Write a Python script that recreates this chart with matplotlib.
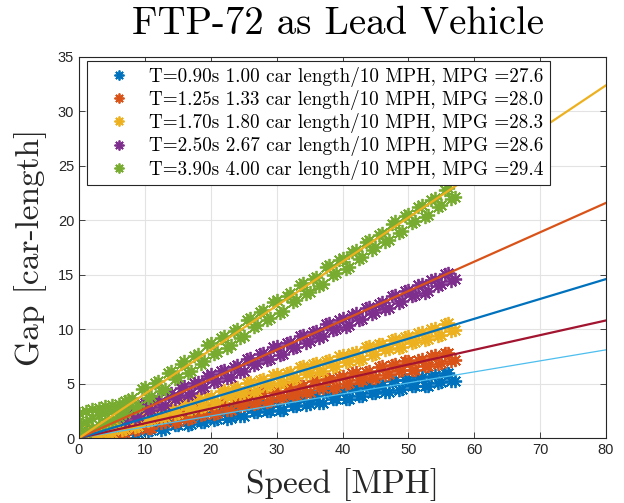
import matplotlib
matplotlib.use("Agg")
import matplotlib.pyplot as plt

# speed samples (MPH): whole and half steps
speed = [0, 1, 2, 3, 4, 5, 6, 7, 8, 9, 10, 11, 12, 13, 14, 15, 16, 17, 18, 19, 20, 21, 22, 23, 24,
         25, 26, 27, 28, 29, 30, 31, 32, 33, 34, 35, 36, 37, 38, 39, 40, 41, 42, 43, 44, 45, 46, 47,
         48, 49, 50, 51, 52, 53, 54, 55, 56, 57]
speed_half = [0.5, 1.5, 2.5, 3.5, 4.5, 5.5, 6.5, 7.5, 8.5, 9.5, 10.5, 11.5, 12.5, 13.5, 14.5, 15.5,
              16.5, 17.5, 18.5, 19.5, 20.5, 21.5, 22.5, 23.5, 24.5, 25.5, 26.5, 27.5, 28.5, 29.5,
              30.5, 31.5, 32.5, 33.5, 34.5, 35.5, 36.5, 37.5, 38.5, 39.5, 40.5, 41.5, 42.5, 43.5,
              44.5, 45.5, 46.5, 47.5, 48.5, 49.5, 50.5, 51.5, 52.5, 53.5, 54.5, 55.5, 56.5]

gap_t090 = [0.4, 0.0, 0.7, 0.0, 0.7, 0.0, 1.05, 0.35, 1.15, 0.45, 1.5, 0.7, 1.5, 0.8, 1.8, 1.2,
            2.05, 1.25, 2.15, 1.5, 2.5, 1.75, 2.6, 1.8, 2.7, 2.05, 3.05, 2.4, 3.2, 2.5, 3.5, 2.6,
            3.55, 2.95, 3.85, 3.1, 3.9, 3.25, 4.3, 3.6, 4.4, 3.6, 4.55, 3.9, 4.85, 4.15, 4.9, 4.25,
            5.3, 4.5, 5.4, 4.8, 5.65, 4.8, 5.75, 5.1, 6.0, 5.25]
gap_t090_half = [0.0, 0.65, 0.0, 0.65, 0.0, 1.0, 0.3, 1.1, 0.4, 1.45, 0.65, 1.45, 0.75, 1.75, 1.15,
                 2.0, 1.2, 2.1, 1.45, 2.45, 1.7, 2.55, 1.75, 2.65, 2.0, 3.0, 2.35, 3.15, 2.45, 3.45,
                 2.55, 3.5, 2.9, 3.8, 3.05, 3.85, 3.2, 4.25, 3.55, 4.35, 3.55, 4.5, 3.85, 4.8, 4.1,
                 4.85, 4.2, 5.25, 4.45, 5.35, 4.75, 5.6, 4.75, 5.7, 5.05, 5.95, 5.2]

gap_t125 = [0.5, 0.0, 0.57, 0.0, 0.98, 0.32, 1.15, 0.48, 1.56, 0.8, 1.63, 0.96, 2.0, 1.43, 2.31, 1.55,
            2.48, 1.86, 2.89, 2.18, 3.06, 2.29, 3.23, 2.61, 3.64, 3.03, 3.86, 3.19, 4.22, 3.36, 4.34, 3.77,
            4.71, 3.99, 4.82, 4.21, 5.29, 4.62, 5.45, 4.69, 5.67, 5.05, 6.04, 5.37, 6.15, 5.54, 6.62, 5.85,
            6.78, 6.22, 7.1, 6.28, 7.27, 6.65, 7.58, 6.87, 7.85, 7.18]
gap_t125_half = [0.0, 0.5, 0.0, 0.91, 0.25, 1.08, 0.41, 1.49, 0.73, 1.56, 0.89, 1.93, 1.36, 2.24, 1.48,
                 2.41, 1.79, 2.82, 2.11, 2.99, 2.22, 3.16, 2.54, 3.57, 2.96, 3.79, 3.12, 4.15, 3.29,
                 4.27, 3.7, 4.64, 3.92, 4.75, 4.14, 5.22, 4.55, 5.38, 4.62, 5.6, 4.98, 5.97, 5.3, 6.08,
                 5.47, 6.55, 5.78, 6.71, 6.15, 7.03, 6.21, 7.2, 6.58, 7.51, 6.8, 7.78, 7.11]

gap_t170 = [0.3, 0.0, 0.81, 0.19, 1.07, 0.45, 1.58, 0.86, 1.74, 1.12, 2.2, 1.68, 2.61, 1.89, 2.87, 2.3,
            3.38, 2.71, 3.64, 2.92, 3.9, 3.33, 4.41, 3.84, 4.72, 4.1, 5.18, 4.36, 5.39, 4.87, 5.85, 5.18,
            6.06, 5.49, 6.62, 6.0, 6.88, 6.16, 7.19, 6.62, 7.65, 7.03, 7.86, 7.29, 8.42, 7.7, 8.68, 8.16,
            9.09, 8.32, 9.35, 8.78, 9.76, 9.09, 10.12, 9.5, 10.58, 9.96]
gap_t170_half = [0.0, 0.72, 0.1, 0.98, 0.36, 1.49, 0.77, 1.65, 1.03, 2.11, 1.59, 2.52, 1.8, 2.78, 2.21,
                 3.29, 2.62, 3.55, 2.83, 3.81, 3.24, 4.32, 3.75, 4.63, 4.01, 5.09, 4.27, 5.3, 4.78,
                 5.76, 5.09, 5.97, 5.4, 6.53, 5.91, 6.79, 6.07, 7.1, 6.53, 7.56, 6.94, 7.77, 7.2, 8.33,
                 7.61, 8.59, 8.07, 9.0, 8.23, 9.26, 8.69, 9.67, 9.0, 10.03, 9.41, 10.49, 9.87]

# T=2.50s run starts at about 7 MPH
speed_t250 = [7, 7, 8, 9, 10, 11, 12, 13, 14, 15, 16, 17, 18, 19, 20, 21, 22, 23, 24, 25, 26, 27, 28,
              29, 30, 31, 32, 33, 34, 35, 36, 37, 38, 39, 40, 41, 42, 43, 44, 45, 46, 47, 48, 49,
              50, 51, 52, 53, 54, 55, 56, 57]
gap_t250 = [1.58, 2.5, 2.55, 2.01, 3.22, 2.58, 3.54, 3.01, 4.17, 3.73, 4.74, 4.1, 5.17, 4.68, 5.84,
            5.25, 6.26, 5.63, 6.69, 6.2, 7.36, 6.87, 7.84, 7.3, 8.46, 7.72, 8.83, 8.4, 9.46, 8.87,
            9.83, 9.34, 10.56, 10.02, 10.98, 10.34, 11.45, 10.97, 12.08, 11.54, 12.45, 11.96,
            13.18, 12.54, 13.6, 13.16, 14.17, 13.49, 14.6, 14.11, 15.17, 14.58]
speed_late_half = [7.5, 8.5, 9.5, 10.5, 11.5, 12.5, 13.5, 14.5, 15.5, 16.5, 17.5, 18.5, 19.5, 20.5,
                   21.5, 22.5, 23.5, 24.5, 25.5, 26.5, 27.5, 28.5, 29.5, 30.5, 31.5, 32.5, 33.5,
                   34.5, 35.5, 36.5, 37.5, 38.5, 39.5, 40.5, 41.5, 42.5, 43.5, 44.5, 45.5, 46.5,
                   47.5, 48.5, 49.5, 50.5, 51.5, 52.5, 53.5, 54.5, 55.5, 56.5]
gap_t250_half = [2.42, 1.88, 3.09, 2.45, 3.41, 2.88, 4.04, 3.6, 4.61, 3.97, 5.04, 4.55, 5.71, 5.12,
                 6.13, 5.5, 6.56, 6.07, 7.23, 6.74, 7.71, 7.17, 8.33, 7.59, 8.7, 8.27, 9.33, 8.74,
                 9.7, 9.21, 10.43, 9.89, 10.85, 10.21, 11.32, 10.84, 11.95, 11.41, 12.32, 11.83,
                 13.05, 12.41, 13.47, 13.03, 14.04, 13.36, 14.47, 13.98, 15.04, 14.45]

# T=3.90s run: low-speed cluster plus the main band
speed_t390 = [0, 0, 0, 0, 1, 1, 1, 2, 2, 2, 3, 3, 3, 4, 4, 4, 5, 5, 5, 6, 6, 6, 7, 7, 7,
              8, 9, 10, 11, 12, 13, 14, 15, 16, 17, 18, 19, 20, 21, 22, 23, 24, 25, 26, 27, 28,
              29, 30, 31, 32, 33, 34, 35, 36, 37, 38, 39, 40, 41, 42, 43, 44, 45, 46, 47, 48,
              49, 50, 51, 52, 53, 54, 55, 56, 57]
gap_t390 = [0.2, 0.9, 1.6, 2.3, 0.5, 1.5, 2.5, 0.8, 1.8, 2.7, 1.2, 2.1, 2.8, 1.4, 2.3, 2.9,
            1.6, 2.5, 3.0, 1.9, 2.6, 3.1, 2.3, 2.9, 3.4,
            3.69, 2.97, 4.7, 3.84, 5.22, 4.5, 6.16, 5.58, 7.03, 6.17, 7.69, 7.04, 8.7, 7.91, 9.36,
            8.5, 10.02, 9.37, 11.03, 10.38, 11.76, 11.04, 12.7, 11.7, 13.29, 12.71, 14.23, 13.44,
            14.82, 14.17, 15.9, 15.18, 16.56, 15.7, 17.29, 16.64, 18.23, 17.51, 18.82, 18.17,
            19.9, 19.04, 20.56, 19.98, 21.43, 20.5, 22.09, 21.44, 22.96, 22.17]
gap_t390_half = [3.49, 2.77, 4.5, 3.64, 5.02, 4.3, 5.96, 5.38, 6.83, 5.97, 7.49, 6.84, 8.5, 7.71,
                 9.16, 8.3, 9.82, 9.17, 10.83, 10.18, 11.56, 10.84, 12.5, 11.5, 13.09, 12.51,
                 14.03, 13.24, 14.62, 13.97, 15.7, 14.98, 16.36, 15.5, 17.09, 16.44, 18.03, 17.31,
                 18.62, 17.97, 19.7, 18.84, 20.36, 19.78, 21.23, 20.3, 21.89, 21.24, 22.76, 21.97]

labels = [
    "T=0.90s 1.00 car length/10 MPH, MPG =27.6",
    "T=1.25s 1.33 car length/10 MPH, MPG =28.0",
    "T=1.70s 1.80 car length/10 MPH, MPG =28.3",
    "T=2.50s 2.67 car length/10 MPH, MPG =28.6",
    "T=3.90s 4.00 car length/10 MPH, MPG =29.4",
]

# reference lines, from 0 to 80 MPH
line_speed = [0, 80]
line_gaps = [[0, 8.1], [0, 10.8], [0, 14.6], [0, 21.6], [0, 32.4]]

scatter_colors = ["#0072BD", "#D95319", "#EDB120", "#7E2F8E", "#77AC30"]
line_colors = ["#4DBEEE", "#A2142F", "#0072BD", "#D95319", "#EDB120"]
line_widths = [0.9, 1.6, 1.6, 1.6, 1.6]

serif = "cmr10"
plt.rcParams["font.family"] = ["Liberation Sans", "DejaVu Sans"]

fig = plt.figure(figsize=(6.24, 5.03), dpi=100)
ax = fig.add_axes([0.1266, 0.1292, 0.8446, 0.7575])

series = [
    (speed + speed_half, gap_t090 + gap_t090_half),
    (speed + speed_half, gap_t125 + gap_t125_half),
    (speed + speed_half, gap_t170 + gap_t170_half),
    (speed_t250 + speed_late_half, gap_t250 + gap_t250_half),
    (speed_t390 + speed_late_half, gap_t390 + gap_t390_half),
]
asterisk = (8, 2, 0)
for (x, y), c, lab in zip(series, scatter_colors, labels):
    ax.plot(x, y, linestyle="none", marker=asterisk, markersize=9.5,
            markeredgewidth=1.3, color=c, label=lab)

for g, c, w in zip(line_gaps, line_colors, line_widths):
    ax.plot(line_speed, g, color=c, linewidth=w)

ax.set_xlim(0, 80)
ax.set_ylim(0, 35)
ax.set_xticks(range(0, 81, 10))
ax.set_yticks(range(0, 36, 5))
ax.tick_params(direction="in", top=True, right=True, labelsize=10.5,
               colors="#262626", length=4, width=0.6)
ax.grid(True, color="#e3e3e3", linewidth=0.8)
ax.set_axisbelow(True)
for sp in ax.spines.values():
    sp.set_color("#262626")
    sp.set_linewidth(0.8)

ax.set_xlabel("Speed [MPH]", family=serif, fontsize=24, color="#262626", labelpad=8)
ax.set_ylabel("Gap [car-length]", family=serif, fontsize=24, color="#262626", labelpad=8)
fig.suptitle("FTP-72 as Lead Vehicle", family=serif, fontsize=28, x=0.542, y=0.988)

leg = ax.legend(loc="upper left", bbox_to_anchor=(0.015, 0.99), prop={"family": serif, "size": 13.8},
                frameon=True, fancybox=False, edgecolor="#262626", framealpha=1,
                borderpad=0.3, labelspacing=0.17, handletextpad=0.26, handlelength=2.7,
                borderaxespad=0.0, markerscale=0.75)
leg.get_frame().set_linewidth(0.8)

fig.savefig("out.png", dpi=100)
plt.close(fig)
